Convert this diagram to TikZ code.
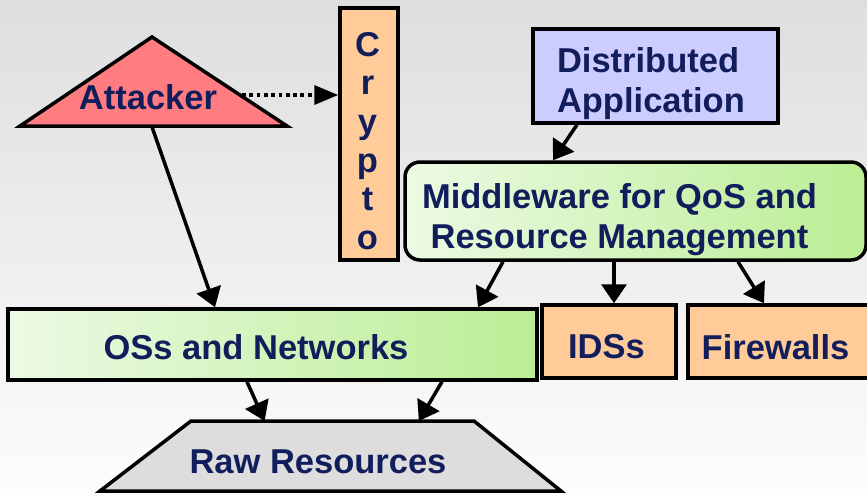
\documentclass[tikz,border=0pt]{standalone}
\usepackage{fontspec}
\setmainfont{Liberation Sans}
\usetikzlibrary{arrows.meta,calc}

\definecolor{ink}{RGB}{18,30,92}
\definecolor{attackred}{RGB}{255,124,128}
\definecolor{peach}{RGB}{255,204,153}
\definecolor{lavender}{RGB}{204,204,255}
\definecolor{greenpale}{RGB}{236,250,228}
\definecolor{greendeep}{RGB}{186,238,148}
\definecolor{rawgray}{RGB}{221,221,221}
\definecolor{bgtop}{RGB}{222,222,222}
\definecolor{bgbottom}{RGB}{253,253,253}

\tikzset{
  lbl/.style={font=\fontsize{34.5}{40}\selectfont\bfseries, text=ink, inner sep=0pt},
  box/.style={draw=black, line width=3.5pt, inner sep=0pt},
  peachbox/.style={box, fill=peach},
  greenbox/.style={box, left color=greenpale, right color=greendeep},
  arr/.style={line width=3.5pt, -{Triangle[length=19pt,width=25pt]}},
  dotarr/.style={line width=3.5pt, dash pattern=on 3.8pt off 3.5pt,
                 -{Triangle[length=24pt,width=19pt]}}
}

\begin{document}
\begin{tikzpicture}[x=1pt,y=-1pt]
\useasboundingbox (0,0) rectangle (867,495);
\shade[top color=bgtop, bottom color=bgbottom] (0,0) rectangle (867,495);

% attacker triangle
\coordinate (apex) at (152,37);
\coordinate (attbl) at (20,126);
\coordinate (attbr) at (287,126);
\filldraw[fill=attackred, line width=3.5pt, line join=miter]
  (apex) -- (attbr) -- (attbl) -- cycle;
\node[lbl] (att) at (148,97) {Attacker};
\coordinate (attbase) at (152,127);
\coordinate (attedge) at (242,95);

% crypto column
\node[peachbox, minimum width=58pt, minimum height=252pt] (crypto) at (369,134) {};
\node[align=center, inner sep=0pt, font=\fontsize{34.5}{38.6}\selectfont\bfseries,
      text=ink] (cryptotext) at (367.5,141) {C\\r\\y\\p\\t\\o};

% distributed application
\node[box, fill=lavender, minimum width=245pt, minimum height=94pt]
  (da) at (655.5,76) {};
\node[lbl, text width=197pt, align=left] (datext) at (655.5,84)
  {Distributed\\Application};

% middleware
\node[greenbox, rounded corners=15pt, minimum width=461pt, minimum height=98pt]
  (mw) at (635.5,211) {};
\node[lbl, align=center] (mwtext) at (619.5,220)
  {Middleware for QoS and\\Resource Management};

% OSs and networks
\node[greenbox, minimum width=529pt, minimum height=71pt] (os) at (272.5,344.5) {};
\node[lbl] (ostext) at (256,347) {OSs and Networks};

% IDSs and firewalls
\node[peachbox, minimum width=134pt, minimum height=73pt] (ids) at (609,341.5) {};
\node[lbl] (idstext) at (606.5,347) {IDSs};
\node[peachbox, minimum width=183pt, minimum height=73pt] (fw) at (779.5,341.5) {};
\node[lbl] (fwtext) at (775.5,347) {Firewalls};

% raw resources (trapezoid)
\coordinate (rawtl) at (191,421);
\coordinate (rawtr) at (474,421);
\coordinate (rawbr) at (561,491);
\coordinate (rawbl) at (100,491);
\filldraw[fill=rawgray, line width=3.5pt, line join=miter]
  (rawtl) -- (rawtr) -- (rawbr) -- (rawbl) -- cycle;
\node[lbl] (rawtext) at (318,462) {Raw Resources};

% connectors
\draw[dotarr] (attedge) -- (attedge -| crypto.west);
\draw[arr] (attbase) -- ([xshift=-57.5pt]os.north);
\draw[arr] ([xshift=-78.5pt]da.south) -- ([xshift=-82.5pt]mw.north);
\draw[arr] ([xshift=-132.5pt]mw.south) -- ([xshift=205.5pt]os.north);
\draw[arr] ([xshift=-21.5pt]mw.south) -- ([xshift=5pt]ids.north);
\draw[arr] ([xshift=102.5pt]mw.south) -- ([xshift=-15.5pt]fw.north);
\draw[arr] ([xshift=-25.5pt]os.south) -- ($(rawtl)!0.26!(rawtr)$);
\draw[arr] ([xshift=169.5pt]os.south) -- ($(rawtl)!0.805!(rawtr)$);
\end{tikzpicture}
\end{document}
